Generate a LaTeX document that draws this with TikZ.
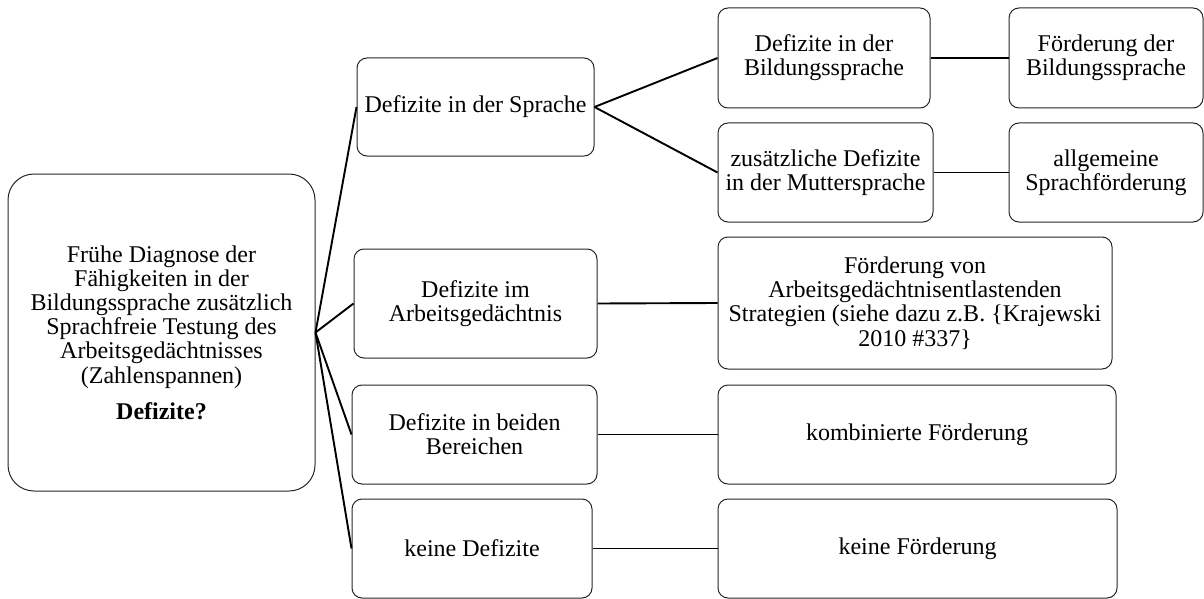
\documentclass[tikz,border=0pt]{standalone}
\usepackage{fontspec}
\setmainfont{Liberation Serif}
\begin{document}
\begin{tikzpicture}[x=1pt,y=-1pt,
  box/.style={draw=black!85, line width=1pt, rounded corners=10pt,
    inner sep=0pt, align=center,
    font=\fontsize{24}{24.2}\selectfont},
  link/.style={line width=1.9pt, black}]
\useasboundingbox (0,0) rectangle (1204,599);

% root box
\node (root) [box, rounded corners=26pt, minimum width=307pt, minimum height=317pt] at (161.5,332.5)
  {Frühe Diagnose der\\Fähigkeiten in der\\Bildungssprache zusätzlich\\Sprachfreie Testung des\\Arbeitsgedächtnisses\\(Zahlenspannen)\\[12pt]\textbf{Defizite?}};

% first level
\node (sprache) [box, minimum width=237pt, minimum height=98pt] at (475.5,107) {Defizite in der Sprache};
\node (arbeit) [box, minimum width=243pt, minimum height=109pt] at (475.5,303.5) {Defizite im\\Arbeitsgedächtnis};
\node (beide) [box, minimum width=245pt, minimum height=99pt] at (474.5,434.5) {Defizite in beiden\\Bereichen};
\node (keine) [box, minimum width=240pt, minimum height=99pt] at (472,548.5) {keine Defizite};

% second level, language branch
\node (bildung) [box, minimum width=212pt, minimum height=100pt] at (824,58) {Defizite in der\\Bildungssprache};
\node (mutter) [box, minimum width=215pt, minimum height=99pt] at (825.5,172.5) {zusätzliche Defizite\\in der Muttersprache};
\node (foerdbild) [box, minimum width=194pt, minimum height=100pt] at (1106,58) {Förderung der\\Bildungssprache};
\node (allgemein) [box, minimum width=194pt, minimum height=99pt] at (1106,172.5) {allgemeine\\Sprachförderung};

% support measures
\node (strategie) [box, minimum width=394pt, minimum height=132pt] at (915,303) {Förderung von\\Arbeitsgedächtnisentlastenden\\Strategien (siehe dazu z.B. \{Krajewski\\2010 \#337\}};
\node (kombi) [box, minimum width=398pt, minimum height=99pt] at (917,434.5) {kombinierte Förderung};
\node (keinef) [box, minimum width=399pt, minimum height=99pt] at (917.5,548.5) {keine Förderung};

% connectors
\draw[link] (root.east) -- (sprache.west);
\draw[link] (root.east) -- (arbeit.west);
\draw[link] (root.east) -- (beide.west);
\draw[link] (root.east) -- (keine.west);
\draw[link] (sprache.east) -- (bildung.west);
\draw[link] (sprache.east) -- (mutter.west);
\draw[link] (bildung.east) -- (foerdbild.west);
\draw[link] (mutter.east) -- (allgemein.west);
\draw[link] (arbeit.east) -- (strategie.west);
\draw[link] (beide.east) -- (kombi.west);
\draw[link] (keine.east) -- (keinef.west);
\end{tikzpicture}
\end{document}
